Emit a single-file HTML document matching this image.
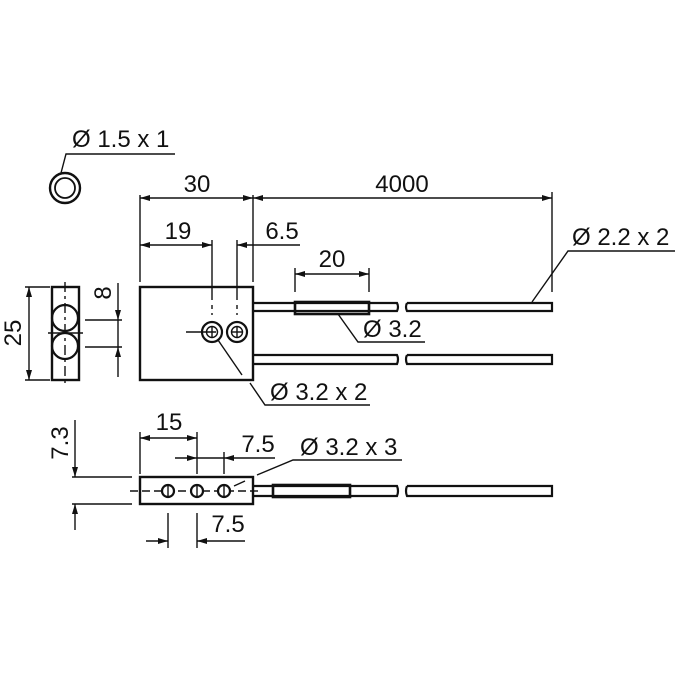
<!DOCTYPE html>
<html><head><style>html,body{margin:0;padding:0;background:#fff}svg{display:block}</style></head>
<body>
<svg width="675" height="675" viewBox="0 0 675 675" xmlns="http://www.w3.org/2000/svg" font-family="'Liberation Sans', sans-serif" font-size="24" fill="none" stroke="#111">
<defs>
<marker id="a" viewBox="0 0 10 6" refX="10" refY="3" markerWidth="11" markerHeight="6" markerUnits="userSpaceOnUse" orient="auto-start-reverse"><path d="M0,0 L10,3 L0,6 z" fill="#111" stroke="none"/></marker>
</defs>
<g stroke-width="1.4">
<circle cx="65" cy="188" r="15" stroke-width="2.4"/>
<circle cx="65" cy="188" r="10" stroke-width="1.8"/>
<polyline points="61,173 66,154 175,154"/>
<line x1="140" y1="195" x2="140" y2="282"/>
<line x1="253" y1="195" x2="253" y2="282"/>
<line x1="552" y1="192" x2="552" y2="292"/>
<line x1="140" y1="198" x2="253" y2="198" marker-start="url(#a)" marker-end="url(#a)"/>
<line x1="253" y1="198" x2="552" y2="198" marker-start="url(#a)" marker-end="url(#a)"/>
<line x1="140" y1="245" x2="212" y2="245" marker-start="url(#a)" marker-end="url(#a)"/>
<line x1="300" y1="245" x2="237" y2="245" marker-end="url(#a)"/>
<line x1="212" y1="240" x2="212" y2="300"/>
<line x1="237" y1="240" x2="237" y2="300"/>
<line x1="212" y1="305" x2="212" y2="315" stroke-dasharray="4 4"/>
<line x1="237" y1="305" x2="237" y2="315" stroke-dasharray="4 4"/>
<rect x="140" y="287" width="113" height="93" stroke-width="2.4"/>
<circle cx="212" cy="332" r="10" stroke-width="2.2"/>
<circle cx="212" cy="332" r="5.5"/>
<circle cx="237" cy="332" r="10" stroke-width="2.2"/>
<circle cx="237" cy="332" r="5.5"/>
<line x1="186" y1="332" x2="216" y2="332"/>
<line x1="231" y1="332" x2="243" y2="332"/><line x1="237" y1="326" x2="237" y2="338"/>
<line x1="212" y1="326" x2="212" y2="338"/>
<polyline points="218,340 242,375"/>
<polyline points="250,383 265,405 370,405"/>
<g stroke-width="2.2">
<path d="M253,303 H397 Q399,307 397,311 H253"/>
<path d="M407,303 H552 V311 H407 Q405,307 407,303"/>
<path d="M253,355 H397 Q399,359 397,364 H253"/>
<path d="M407,355 H552 V364 H407 Q405,359 407,355"/>
<rect x="295" y="302" width="74" height="12" stroke-width="2.6"/>
</g>
<line x1="295" y1="268" x2="295" y2="292"/>
<line x1="369" y1="268" x2="369" y2="292"/>
<line x1="295" y1="274" x2="369" y2="274" marker-start="url(#a)" marker-end="url(#a)"/>
<polyline points="338,314 358,342 425,342"/>
<polyline points="532,302 568,251 675,251"/>
<rect x="52" y="287" width="27" height="93" stroke-width="2.4"/>
<circle cx="65" cy="318" r="13" stroke-width="2.2"/>
<circle cx="65" cy="346" r="13" stroke-width="2.2"/>
<line x1="65" y1="282" x2="65" y2="385" stroke-dasharray="10 4 3 4"/>
<line x1="48" y1="333" x2="83" y2="333"/>
<line x1="25" y1="287" x2="50" y2="287"/>
<line x1="25" y1="380" x2="50" y2="380"/>
<line x1="29" y1="287" x2="29" y2="380" marker-start="url(#a)" marker-end="url(#a)"/>
<line x1="85" y1="320" x2="122" y2="320"/>
<line x1="85" y1="347" x2="122" y2="347"/>
<line x1="118" y1="283" x2="118" y2="320" marker-end="url(#a)"/>
<line x1="118" y1="377" x2="118" y2="347" marker-end="url(#a)"/>
<line x1="118" y1="320" x2="118" y2="347"/>
<rect x="140" y="477" width="113" height="27" stroke-width="2.4"/>
<line x1="130" y1="491" x2="262" y2="491" stroke-dasharray="8 4"/>
<circle cx="168" cy="491" r="6" stroke-width="2.2" fill="#fff"/>
<circle cx="197" cy="491" r="6" stroke-width="2.2" fill="#fff"/>
<circle cx="224" cy="491" r="6" stroke-width="2.2" fill="#fff"/>
<line x1="168" y1="485" x2="168" y2="497"/><line x1="197" y1="485" x2="197" y2="497"/><line x1="224" y1="485" x2="224" y2="497"/>
<g stroke-width="2.2">
<path d="M253,486 H397 Q399,491 397,496 H253"/>
<path d="M407,486 H552 V496 H407 Q405,491 407,486"/>
<rect x="273" y="485" width="77" height="12" stroke-width="2.6"/>
</g>
<line x1="140" y1="432" x2="140" y2="474"/>
<line x1="197" y1="432" x2="197" y2="474"/>
<line x1="224" y1="452" x2="224" y2="474"/>
<line x1="140" y1="438" x2="197" y2="438" marker-start="url(#a)" marker-end="url(#a)"/>
<line x1="175" y1="458" x2="197" y2="458" marker-end="url(#a)"/>
<line x1="275" y1="458" x2="224" y2="458" marker-end="url(#a)"/>
<line x1="197" y1="458" x2="224" y2="458"/>
<line x1="234" y1="486" x2="245" y2="481"/>
<polyline points="257,475 293,460 402,460"/>
<line x1="168" y1="513" x2="168" y2="548"/>
<line x1="197" y1="513" x2="197" y2="548"/>
<line x1="146" y1="541" x2="168" y2="541" marker-end="url(#a)"/>
<line x1="245" y1="541" x2="197" y2="541" marker-end="url(#a)"/>
<line x1="72" y1="477" x2="132" y2="477"/>
<line x1="72" y1="504" x2="132" y2="504"/>
<line x1="75" y1="420" x2="75" y2="477" marker-end="url(#a)"/>
<line x1="75" y1="530" x2="75" y2="504" marker-end="url(#a)"/>
</g>
<g fill="#111" stroke="none">
<text x="72" y="147">Ø 1.5 x 1</text>
<text x="197" y="192" text-anchor="middle">30</text>
<text x="402" y="192" text-anchor="middle">4000</text>
<text x="178" y="239" text-anchor="middle">19</text>
<text x="282" y="239" text-anchor="middle">6.5</text>
<text x="332" y="267" text-anchor="middle">20</text>
<text x="363" y="337">Ø 3.2</text>
<text x="572" y="245">Ø 2.2 x 2</text>
<text x="270" y="400">Ø 3.2 x 2</text>
<text x="169" y="430" text-anchor="middle">15</text>
<text x="258" y="452" text-anchor="middle">7.5</text>
<text x="300" y="455">Ø 3.2 x 3</text>
<text x="228" y="532" text-anchor="middle">7.5</text>
<text transform="translate(21,333) rotate(-90)" text-anchor="middle">25</text>
<text transform="translate(111,293) rotate(-90)" text-anchor="middle">8</text>
<text transform="translate(68,443) rotate(-90)" text-anchor="middle">7.3</text>
</g>
</svg>
</body></html>
